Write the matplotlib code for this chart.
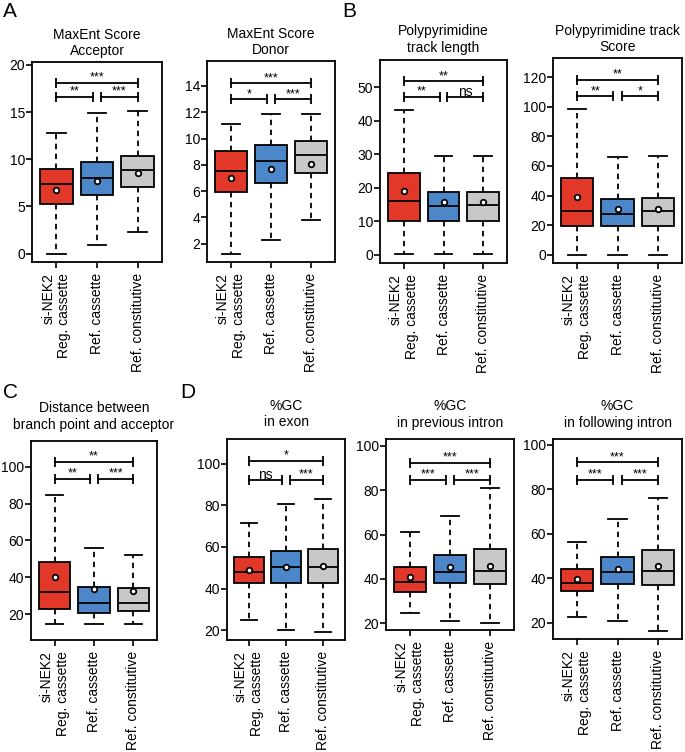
import matplotlib
matplotlib.use('Agg')
import matplotlib.pyplot as plt

plt.rcParams['font.family'] = ['Liberation Sans', 'DejaVu Sans']
plt.rcParams['font.size'] = 10

W, H = 685, 752

groups = ['si-NEK2\nReg. cassette', 'Ref. cassette', 'Ref. constitutive']
colors = ['#E2382A', '#4C87C9', '#C9C7C7']

# MaxEnt score acceptor
acc_low = [-0.1, 0.9, 2.3]
acc_q1 = [5.2, 6.2, 7.1]
acc_med = [7.35, 8.05, 8.8]
acc_q3 = [8.95, 9.75, 10.35]
acc_high = [12.8, 14.9, 15.1]
acc_mean = [6.7, 7.7, 8.5]
acc_sig = ['***', '**', '***']

# MaxEnt score donor
don_low = [1.2, 2.3, 3.8]
don_q1 = [5.9, 6.6, 7.4]
don_med = [7.5, 8.3, 8.75]
don_q3 = [9.05, 9.5, 9.8]
don_high = [11.1, 11.85, 11.85]
don_mean = [7.0, 7.65, 8.05]
don_sig = ['***', '*', '***']

# polypyrimidine track length
ppl_low = [0.2, 0.2, 0.2]
ppl_q1 = [10.1, 10.1, 10.1]
ppl_med = [15.9, 14.4, 14.9]
ppl_q3 = [24.4, 18.8, 18.8]
ppl_high = [43.2, 29.4, 29.4]
ppl_mean = [19.1, 15.6, 15.6]
ppl_sig = ['**', '**', 'ns']

# polypyrimidine track score
pps_low = [0, 0, 0]
pps_q1 = [19.2, 19.2, 19.2]
pps_med = [29.6, 27.8, 29.6]
pps_q3 = [51.9, 37.7, 38.6]
pps_high = [98.2, 65.9, 67.0]
pps_mean = [39.0, 31.2, 30.7]
pps_sig = ['**', '**', '*']

# distance between branch point and acceptor
bpd_low = [14.6, 14.6, 14.6]
bpd_q1 = [22.7, 20.7, 21.8]
bpd_med = [31.8, 26.1, 26.1]
bpd_q3 = [48.0, 34.7, 33.9]
bpd_high = [84.8, 56.0, 52.0]
bpd_mean = [40.3, 33.4, 32.3]
bpd_sig = ['**', '**', '***']

# %GC in exon
gce_low = [24.8, 20.0, 19.2]
gce_q1 = [42.5, 42.5, 42.5]
gce_med = [48.1, 50.2, 50.2]
gce_q3 = [55.3, 58.1, 58.9]
gce_high = [71.7, 80.6, 83.1]
gce_mean = [48.9, 50.2, 50.8]
gce_sig = ['*', 'ns', '***']

# %GC in previous intron
gcp_low = [24.8, 21.0, 20.2]
gcp_q1 = [34.1, 38.3, 37.7]
gcp_med = [38.6, 43.3, 43.6]
gcp_q3 = [45.2, 50.8, 53.4]
gcp_high = [61.2, 68.4, 80.8]
gcp_mean = [40.7, 45.3, 46.0]
gcp_sig = ['***', '***', '***']

# %GC in following intron
gcf_low = [22.5, 21.0, 16.3]
gcf_q1 = [34.2, 37.5, 37.2]
gcf_med = [37.9, 42.7, 43.2]
gcf_q3 = [44.2, 49.4, 52.9]
gcf_high = [56.3, 66.6, 76.3]
gcf_mean = [39.7, 44.2, 45.8]
gcf_sig = ['***', '***', '***']


def px_rect(l, t, r, b):
    return [l / W, 1 - b / H, (r - l) / W, (b - t) / H]


def draw(ax, low, q1, med, q3, high, mean, sig, title, ylim, yticks, br_top, br_low, tpad=5):
    stats = [dict(whislo=low[i], q1=q1[i], med=med[i], q3=q3[i],
                  whishi=high[i], mean=mean[i]) for i in range(3)]
    lw = 1.3
    bp = ax.bxp(stats, positions=[1, 2, 3], widths=0.8, patch_artist=True,
                showmeans=True, showfliers=False, capwidths=0.45,
                boxprops=dict(edgecolor='black', linewidth=lw),
                medianprops=dict(color='black', linewidth=lw),
                whiskerprops=dict(color='black', linewidth=lw, linestyle=(0, (3, 2.5))),
                capprops=dict(color='black', linewidth=lw),
                meanprops=dict(marker='o', markerfacecolor='white', markeredgecolor='black',
                               markersize=4, markeredgewidth=1.3))
    for patch, c in zip(bp['boxes'], colors):
        patch.set_facecolor(c)

    brackets = [(1, 3, br_top, sig[0]), (1, 1.9, br_low, sig[1]), (2.1, 3, br_low, sig[2])]
    for x1, x2, y, s in brackets:
        ax.plot([x1, x2], [y, y], color='black', lw=lw, marker='|', ms=7, mew=lw)
        if s == 'ns':
            ax.annotate(s, ((x1 + x2) / 2, y), xytext=(0, 0.5), textcoords='offset points',
                        ha='center', va='baseline', fontsize=10)
        else:
            ax.annotate(s, ((x1 + x2) / 2, y), xytext=(0, 1.5), textcoords='offset points',
                        ha='center', va='baseline', fontsize=9)

    ax.set_xlim(0.4, 3.6)
    ax.set_ylim(*ylim)
    ax.set_yticks(yticks)
    ax.set_xticks([1, 2, 3])
    ax.set_xticklabels(groups, rotation=90, ha='center', va='top', multialignment='right')
    ax.set_title(title, fontsize=10, pad=tpad)
    for sp in ax.spines.values():
        sp.set_linewidth(lw)
    ax.tick_params(axis='y', direction='out', length=4, width=1.2, pad=1, labelsize=10)
    ax.tick_params(axis='x', direction='out', length=4, width=1.2, pad=4, labelsize=10)


fig = plt.figure(figsize=(6.85, 7.52), dpi=100)

ax = fig.add_axes(px_rect(32, 62, 162, 262))
draw(ax, acc_low, acc_q1, acc_med, acc_q3, acc_high, acc_mean, acc_sig,
     'MaxEnt Score\nAcceptor', (-0.9, 20.3), [0, 5, 10, 15, 20], 18.1, 16.6)

ax = fig.add_axes(px_rect(207, 61, 335, 262))
draw(ax, don_low, don_q1, don_med, don_q3, don_high, don_mean, don_sig,
     'MaxEnt Score\nDonor', (0.6, 15.9), [2, 4, 6, 8, 10, 12, 14], 14.2, 13.0)

ax = fig.add_axes(px_rect(380, 60, 507, 263))
draw(ax, ppl_low, ppl_q1, ppl_med, ppl_q3, ppl_high, ppl_mean, ppl_sig,
     'Polypyrimidine\ntrack length', (-2.5, 58.2), [0, 10, 20, 30, 40, 50], 51.8, 47.2, tpad=6)

ax = fig.add_axes(px_rect(553, 58, 682, 263))
draw(ax, pps_low, pps_q1, pps_med, pps_q3, pps_high, pps_mean, pps_sig,
     'Polypyrimidine track\nScore', (-5.6, 133), [0, 20, 40, 60, 80, 100, 120], 118.3, 107.2)

ax = fig.add_axes(px_rect(31, 441, 157, 640))
draw(ax, bpd_low, bpd_q1, bpd_med, bpd_q3, bpd_high, bpd_mean, bpd_sig,
     'Distance between\nbranch point and acceptor', (5.9, 114), [20, 40, 60, 80, 100], 102.7, 93.5,
     tpad=9)

ax = fig.add_axes(px_rect(227, 439, 345, 640))
draw(ax, gce_low, gce_q1, gce_med, gce_q3, gce_high, gce_mean, gce_sig,
     '%GC\nin exon', (15.2, 112), [20, 40, 60, 80, 100], 101.4, 92.3, tpad=9)

ax = fig.add_axes(px_rect(386, 439, 514, 630))
draw(ax, gcp_low, gcp_q1, gcp_med, gcp_q3, gcp_high, gcp_mean, gcp_sig,
     '%GC\nin previous intron', (17, 103), [20, 40, 60, 80, 100], 92.4, 84.6, tpad=9)

ax = fig.add_axes(px_rect(553, 439, 682, 639))
draw(ax, gcf_low, gcf_q1, gcf_med, gcf_q3, gcf_high, gcf_mean, gcf_sig,
     '%GC\nin following intron', (12.8, 102.6), [20, 40, 60, 80, 100], 92.1, 84.3, tpad=9)

for letter, x, y in [('A', 3, 2), ('B', 342, 2), ('C', 3, 383), ('D', 180, 383)]:
    fig.text(x / W, 1 - y / H, letter, fontsize=15, ha='left', va='top')

fig.savefig('out.png', dpi=100)
